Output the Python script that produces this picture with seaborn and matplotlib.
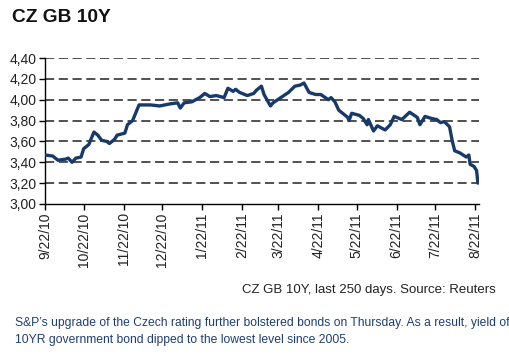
import matplotlib
matplotlib.use("Agg")
import matplotlib.pyplot as plt
import matplotlib.dates as mdates
import seaborn as sns
import pandas as pd

LINE_COLOR = "#173a6b"

# CZ GB 10Y yield
dates = ["2010-09-22", "2010-09-28", "2010-10-02", "2010-10-08", "2010-10-10", "2010-10-13",
         "2010-10-16", "2010-10-20", "2010-10-22", "2010-10-26", "2010-10-30", "2010-11-02",
         "2010-11-05", "2010-11-09", "2010-11-11", "2010-11-15", "2010-11-17", "2010-11-23",
         "2010-11-25", "2010-11-29", "2010-12-04", "2010-12-13", "2010-12-20", "2010-12-28",
         "2011-01-03", "2011-01-05", "2011-01-08", "2011-01-14", "2011-01-20", "2011-01-24",
         "2011-01-28", "2011-02-02", "2011-02-08", "2011-02-11", "2011-02-15", "2011-02-17",
         "2011-02-20", "2011-02-26", "2011-03-03", "2011-03-05", "2011-03-09", "2011-03-11",
         "2011-03-16", "2011-03-18", "2011-03-24", "2011-03-30", "2011-04-04", "2011-04-08",
         "2011-04-11", "2011-04-15", "2011-04-20", "2011-04-24", "2011-04-30", "2011-05-02",
         "2011-05-05", "2011-05-08", "2011-05-15", "2011-05-16", "2011-05-18", "2011-05-24",
         "2011-05-27", "2011-05-30", "2011-05-31", "2011-06-04", "2011-06-07", "2011-06-13",
         "2011-06-17", "2011-06-20", "2011-06-26", "2011-07-02", "2011-07-08", "2011-07-10",
         "2011-07-14", "2011-07-19", "2011-07-23", "2011-07-26", "2011-07-29", "2011-08-02",
         "2011-08-04", "2011-08-06", "2011-08-10", "2011-08-15", "2011-08-17", "2011-08-18",
         "2011-08-21", "2011-08-23", "2011-08-24"]
yields = [3.47, 3.46, 3.42, 3.43, 3.44, 3.40,
          3.44, 3.45, 3.53, 3.57, 3.69, 3.66,
          3.61, 3.60, 3.58, 3.62, 3.66, 3.68,
          3.76, 3.80, 3.95, 3.95, 3.94, 3.96,
          3.97, 3.92, 3.97, 3.98, 4.02, 4.06,
          4.03, 4.04, 4.02, 4.11, 4.08, 4.10,
          4.07, 4.04, 4.06, 4.09, 4.13, 4.05,
          3.94, 3.97, 4.02, 4.07, 4.13, 4.14,
          4.16, 4.07, 4.05, 4.05, 4.00, 4.02,
          3.98, 3.90, 3.83, 3.80, 3.87, 3.85,
          3.82, 3.76, 3.81, 3.70, 3.75, 3.71,
          3.76, 3.84, 3.81, 3.88, 3.83, 3.76,
          3.84, 3.82, 3.81, 3.78, 3.79, 3.74,
          3.61, 3.51, 3.49, 3.45, 3.47, 3.38,
          3.36, 3.32, 3.20]

tick_dates = ["2010-09-22", "2010-10-22", "2010-11-22", "2010-12-22", "2011-01-22", "2011-02-22",
              "2011-03-22", "2011-04-22", "2011-05-22", "2011-06-22", "2011-07-22", "2011-08-22"]
tick_labels = ["9/22/10", "10/22/10", "11/22/10", "12/22/10", "1/22/11", "2/22/11",
               "3/22/11", "4/22/11", "5/22/11", "6/22/11", "7/22/11", "8/22/11"]
y_ticks = [3.00, 3.20, 3.40, 3.60, 3.80, 4.00, 4.20, 4.40]

sns.set_style("white")
plt.rcParams['font.family'] = ['Liberation Sans', 'DejaVu Sans']

df = pd.DataFrame({"date": pd.to_datetime(dates), "yield": yields})

fig = plt.figure(figsize=(5.09, 3.55), dpi=100)
ax = fig.add_axes([0.0884, 0.4254, 0.853, 0.4112])

# dashed grid lines
for y in y_ticks[1:]:
    ax.axhline(y, color="#222222", linestyle=(0, (6, 3)), linewidth=1.1, zorder=1)

sns.lineplot(data=df, x="date", y="yield", ax=ax, color=LINE_COLOR, linewidth=2.4, zorder=3)

ax.set_xlim(pd.Timestamp("2010-09-22"), pd.Timestamp("2011-08-25"))
ax.set_ylim(3.0, 4.4)
ax.set_yticks(y_ticks)
ax.set_yticklabels([f"{v:.2f}".replace(".", ",") for v in y_ticks])
ax.set_xticks(mdates.date2num(pd.to_datetime(tick_dates)))
ax.set_xticklabels(tick_labels, rotation=90)
ax.set_xlabel("")
ax.set_ylabel("")

for side in ["top", "right"]:
    ax.spines[side].set_visible(False)
for side in ["left", "bottom"]:
    ax.spines[side].set_color("black")
    ax.spines[side].set_linewidth(1.0)
ax.tick_params(axis="both", which="major", length=4, width=1, color="black",
               direction="out", labelsize=10, labelcolor="#222222", pad=2)
ax.tick_params(axis="y", left=True)
ax.tick_params(axis="x", bottom=True)

fig.text(12 / 509, 1 - 17 / 355, "CZ GB 10Y", fontsize=13.8, fontweight="bold",
         ha="left", va="center", color="#111111")
fig.text(496 / 509, 1 - 290 / 355, "CZ GB 10Y, last 250 days. Source: Reuters",
         fontsize=9.5, ha="right", va="center", color="#222222")
fig.text(15 / 509, 1 - 323 / 355,
         "S&P\u2019s upgrade of the Czech rating further bolstered bonds on Thursday. As a result, yield of",
         fontsize=8.7, ha="left", va="center", color="#1f3f73")
fig.text(15 / 509, 1 - 340 / 355,
         "10YR government bond dipped to the lowest level since 2005.",
         fontsize=8.7, ha="left", va="center", color="#1f3f73")

fig.savefig("out.png", dpi=100)
